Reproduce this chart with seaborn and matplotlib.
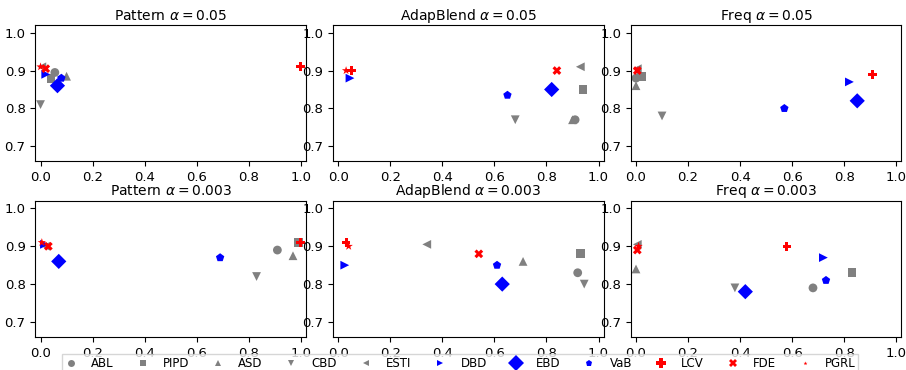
import matplotlib
matplotlib.use("Agg")
import matplotlib.pyplot as plt
from matplotlib.lines import Line2D
import seaborn as sns
import pandas as pd

methods = ["ABL", "PIPD", "ASD", "CBD", "ESTI", "DBD", "EBD", "VaB", "LCV", "FDE", "PGRL"]
colors = ["gray", "gray", "gray", "gray", "gray", "blue", "blue", "blue", "red", "red", "red"]
markers = ["o", "s", "^", "v", "<", ">", "D", "p", "P", "X", "*"]

titles = [r"Pattern $\alpha=0.05$", r"AdapBlend $\alpha=0.05$", r"Freq $\alpha=0.05$",
          r"Pattern $\alpha=0.003$", r"AdapBlend $\alpha=0.003$", r"Freq $\alpha=0.003$"]

# x, y per panel, in the order of `methods`
pattern_05_x = [0.055, 0.04, 0.10, 0.00, 0.005, 0.02, 0.065, 0.08, 1.00, 0.02, 0.00]
pattern_05_y = [0.895, 0.88, 0.885, 0.81, 0.91, 0.89, 0.86, 0.88, 0.91, 0.905, 0.91]
adap_05_x = [0.91, 0.94, 0.90, 0.68, 0.93, 0.045, 0.82, 0.65, 0.05, 0.84, 0.03]
adap_05_y = [0.77, 0.85, 0.77, 0.77, 0.91, 0.88, 0.85, 0.835, 0.90, 0.90, 0.90]
freq_05_x = [0.00, 0.02, 0.00, 0.10, 0.005, 0.82, 0.85, 0.57, 0.91, 0.005, 0.005]
freq_05_y = [0.88, 0.885, 0.86, 0.78, 0.905, 0.87, 0.82, 0.80, 0.89, 0.90, 0.90]
pattern_003_x = [0.91, 0.99, 0.97, 0.83, 0.02, 0.015, 0.07, 0.69, 1.00, 0.03, 0.005]
pattern_003_y = [0.89, 0.91, 0.875, 0.82, 0.90, 0.905, 0.86, 0.87, 0.91, 0.90, 0.91]
adap_003_x = [0.92, 0.93, 0.71, 0.945, 0.34, 0.025, 0.63, 0.61, 0.03, 0.54, 0.04]
adap_003_y = [0.83, 0.88, 0.86, 0.80, 0.905, 0.85, 0.80, 0.85, 0.91, 0.88, 0.90]
freq_003_x = [0.68, 0.83, 0.00, 0.38, 0.005, 0.72, 0.42, 0.73, 0.58, 0.005, 0.01]
freq_003_y = [0.79, 0.83, 0.84, 0.79, 0.905, 0.87, 0.78, 0.81, 0.90, 0.89, 0.90]

panels = [(pattern_05_x, pattern_05_y), (adap_05_x, adap_05_y), (freq_05_x, freq_05_y),
          (pattern_003_x, pattern_003_y), (adap_003_x, adap_003_y), (freq_003_x, freq_003_y)]

palette = dict(zip(methods, colors))
marker_map = dict(zip(methods, markers))
size_map = {m: (60 if m == "EBD" else 40) for m in methods}

fig, axes = plt.subplots(2, 3, figsize=(9.06, 3.7), dpi=100)
fig.subplots_adjust(left=0.039, right=0.995, top=0.932, bottom=0.089, wspace=0.1, hspace=0.29)

for ax, (xs, ys), title in zip(axes.flat, panels, titles):
    df = pd.DataFrame({"x": xs, "y": ys, "method": methods})
    sns.scatterplot(data=df, x="x", y="y", hue="method", style="method", size="method",
                    palette=palette, markers=marker_map, sizes=size_map,
                    hue_order=methods, style_order=methods, size_order=methods,
                    linewidth=0, legend=False, ax=ax)
    ax.set_xlim(-0.02, 1.02)
    ax.set_ylim(0.66, 1.02)
    ax.set_xticks([0.0, 0.2, 0.4, 0.6, 0.8, 1.0])
    ax.set_yticks([0.7, 0.8, 0.9, 1.0])
    ax.set_xlabel("")
    ax.set_ylabel("")
    ax.set_title(title, fontsize=10, pad=4)
    ax.tick_params(labelsize=9.5)

legend_sizes = {m: 5 for m in methods}
legend_sizes["EBD"] = 8
legend_sizes["PGRL"] = 3
legend_sizes["LCV"] = 6.5
legend_sizes["FDE"] = 6
handles = [Line2D([0], [0], marker=marker_map[m], color=palette[m], linestyle="",
                  markersize=legend_sizes[m], markeredgewidth=0) for m in methods]
fig.legend(handles, methods, loc="lower center", bbox_to_anchor=(0.508, -0.025), ncol=11,
           fontsize=8.5, frameon=True, handlelength=1.0, handletextpad=1.2, columnspacing=1.95,
           borderpad=0.25, fancybox=False, edgecolor="0.8")

fig.savefig("out.png", dpi=100)
